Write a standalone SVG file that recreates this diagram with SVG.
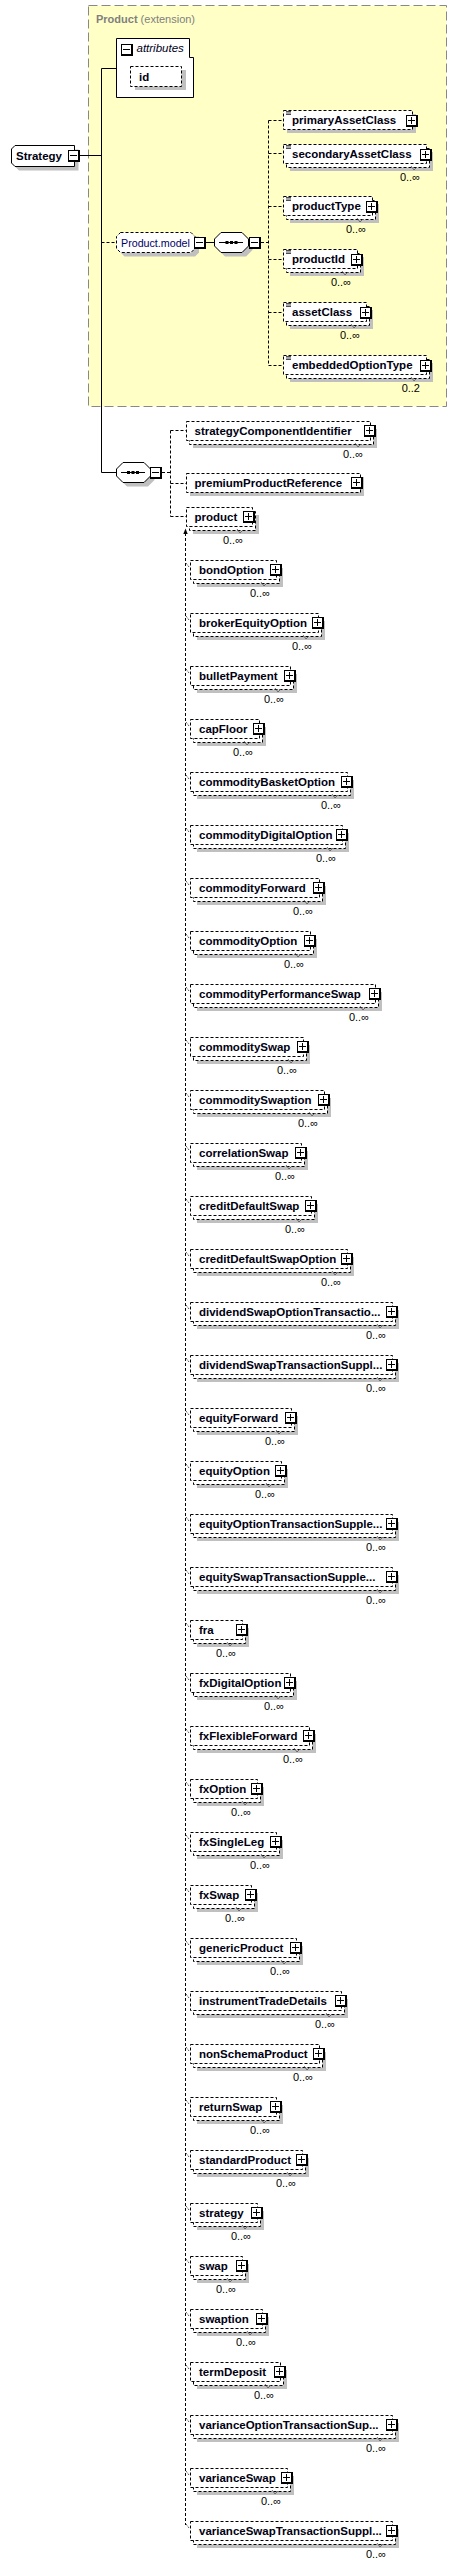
<svg xmlns="http://www.w3.org/2000/svg" xmlns:xlink="http://www.w3.org/1999/xlink" width="457" height="2566" viewBox="0 0 457 2566">
<style>
.bx{fill:#fff;stroke:#000;stroke-width:1;stroke-dasharray:3,2}
.sb{fill:#fff;stroke:#000;stroke-width:1}
.sh{fill:#c0c0c0}
.nm{font-family:"Liberation Sans",Arial,sans-serif;font-size:11.5px;font-weight:bold;fill:#000011}
.mu{font-family:"Liberation Sans",Arial,sans-serif;font-size:11px;fill:#000;text-anchor:end}
.dc{fill:none;stroke:#000;stroke-width:1;stroke-dasharray:3,2}
.sc{fill:none;stroke:#000;stroke-width:1}
.nt{fill:none;stroke:#555;stroke-width:0.8}
.tk{fill:none;stroke:#000;stroke-width:0.8;stroke-dasharray:1,1}
.ic{fill:none;stroke:#000;stroke-width:0.7}
</style>
<defs>
<g id="plus"><rect width="12" height="12" fill="#000"/><rect x="1" y="1" width="9" height="9" fill="#fff"/><rect x="2" y="5" width="7" height="1" fill="#000"/><rect x="5" y="2" width="1" height="7" fill="#000"/></g>
<g id="minus"><rect width="12" height="12" fill="#000"/><rect x="1" y="1" width="9" height="9" fill="#fff"/><rect x="2" y="5" width="7" height="1" fill="#000"/></g>
</defs>

<g id="product-extension">
<rect x="88.5" y="5.5" width="358" height="401" fill="#ffffc6" stroke="#888" stroke-width="1" stroke-dasharray="9,4"/>
<text x="96" y="23" font-family="'Liberation Sans',Arial,sans-serif" font-size="11px" fill="#808080"><tspan font-weight="bold">Product</tspan> (extension)</text>
</g>

<g id="connectors">
<path class="sc" d="M79,155.5H101.5M101.5,68.5V472.5M101.5,68.5H116.5M101.5,472.5H116.5M205,242.5H214.5"/>
<path class="dc" d="M101.5,242.5H116.5M261,242.5H268.5M268.5,120.5V365.5M268.5,120.5H283.5M268.5,153.5H283.5M268.5,206.5H283.5M268.5,259.5H283.5M268.5,312.5H283.5M268.5,365.5H283.5"/>
<path class="dc" d="M162,472.5H170.5M170.5,430.5V516.5M170.5,430.5H186M170.5,483.5H186M170.5,516.5H186"/>
<path class="dc" d="M185.5,533V2525"/>
<path d="M183.3,534L185.5,528.5L187.7,534Z" fill="#000"/>
<path class="sc" d="M187,526.5L191,522.5"/>
<path d="M188.5,521.2L192.3,520.5L191.8,524.3Z" fill="#000"/>
</g>

<g id="Strategy">
<path class="sh" d="M19,149.5H78.5V170.5H19L15.5,167V153Z"/>
<path class="sb" d="M15,145.5H74.5V166.5H15L11.5,163V149Z"/>
<text class="nm" x="16" y="160">Strategy</text>
<use xlink:href="#minus" x="68" y="150"/>
</g>

<g id="attributes">
<path class="sb" d="M116.5,38.5H189.5V57.5H193.5V97.5H116.5Z"/>
<use xlink:href="#minus" x="121" y="44"/>
<text x="136.5" y="52" font-family="'Liberation Sans',Arial,sans-serif" font-size="11.5px" font-style="italic" fill="#000022">attributes</text>
</g>

<g id="id">
<rect class="sh" x="135" y="70" width="51" height="20"/>
<rect class="bx" x="130.5" y="66.5" width="51" height="20"/>
<text class="nm" x="139" y="81">id</text>
</g>

<g id="Product.model">
<path class="sh" d="M124.5,236.5H199V252.5L195,256.5H124.5L120.5,252.5V240.5Z"/>
<path class="bx" d="M120.5,232.5H191L195,236.5V248.5L191,252.5H120.5L116.5,248.5V236.5Z"/>
<text x="121" y="246.5" font-family="'Liberation Sans',Arial,sans-serif" font-size="10.7px" fill="#000066">Product.model</text>
<use xlink:href="#minus" x="194" y="237"/>
</g>

<g id="sequence-model">
<path class="sh" d="M225,236.5H246L252.5,243V250L246,256.5H225L218.5,250V243Z"/>
<path class="sb" d="M221,232.5H242L248.5,239V246L242,252.5H221L214.5,246V239Z"/>
<path class="sc" d="M219,242.5H243"/>
<rect x="225.5" y="241" width="3" height="3" fill="#000"/><rect x="230" y="241" width="3" height="3" fill="#000"/><rect x="234.5" y="241" width="3" height="3" fill="#000"/>
<use xlink:href="#minus" x="249" y="237"/>
</g>

<g id="primaryAssetClass" transform="translate(283,110)">
<rect class="sh" x="4" y="4" width="129" height="19"/>
<rect class="bx" x="0.5" y="0.5" width="129" height="19"/>
<path class="ic" d="M3,1.5h5M3,3h5M3,4.5h5"/>
<use xlink:href="#plus" x="123" y="5"/>
<text class="nm" x="9" y="14">primaryAssetClass</text>
</g>

<g id="secondaryAssetClass" transform="translate(283,144)">
<rect class="sh" x="7" y="8" width="143" height="19"/>
<rect class="bx" x="3.5" y="4.5" width="143" height="19"/>
<rect class="bx" x="0.5" y="0.5" width="143" height="19"/>
<path class="nt" d="M128,22l3,4l3,-3"/>
<path class="ic" d="M3,1.5h5M3,3h5M3,4.5h5"/>
<use xlink:href="#plus" x="137" y="5"/>
<text class="nm" x="9" y="14">secondaryAssetClass</text>
<text class="mu" x="137" y="36.5">0..∞</text>
</g>

<g id="productType" transform="translate(283,196)">
<rect class="sh" x="7" y="8" width="89" height="19"/>
<rect class="bx" x="3.5" y="4.5" width="89" height="19"/>
<rect class="bx" x="0.5" y="0.5" width="89" height="19"/>
<path class="nt" d="M74,22l3,4l3,-3"/>
<path class="ic" d="M3,1.5h5M3,3h5M3,4.5h5"/>
<use xlink:href="#plus" x="83" y="5"/>
<text class="nm" x="9" y="14">productType</text>
<text class="mu" x="83" y="36.5">0..∞</text>
</g>

<g id="productId" transform="translate(283,249)">
<rect class="sh" x="7" y="8" width="74" height="19"/>
<rect class="bx" x="3.5" y="4.5" width="74" height="19"/>
<rect class="bx" x="0.5" y="0.5" width="74" height="19"/>
<path class="nt" d="M59,22l3,4l3,-3"/>
<path class="ic" d="M3,1.5h5M3,3h5M3,4.5h5"/>
<use xlink:href="#plus" x="68" y="5"/>
<text class="nm" x="9" y="14">productId</text>
<text class="mu" x="68" y="36.5">0..∞</text>
</g>

<g id="assetClass" transform="translate(283,302)">
<rect class="sh" x="7" y="8" width="83" height="19"/>
<rect class="bx" x="3.5" y="4.5" width="83" height="19"/>
<rect class="bx" x="0.5" y="0.5" width="83" height="19"/>
<path class="nt" d="M68,22l3,4l3,-3"/>
<path class="ic" d="M3,1.5h5M3,3h5M3,4.5h5"/>
<use xlink:href="#plus" x="77" y="5"/>
<text class="nm" x="9" y="14">assetClass</text>
<text class="mu" x="77" y="36.5">0..∞</text>
</g>

<g id="embeddedOptionType" transform="translate(283,355)">
<rect class="sh" x="7" y="8" width="143" height="19"/>
<rect class="bx" x="3.5" y="4.5" width="143" height="19"/>
<rect class="bx" x="0.5" y="0.5" width="143" height="19"/>
<path class="nt" d="M128,22l3,4l3,-3"/>
<path class="ic" d="M3,1.5h5M3,3h5M3,4.5h5"/>
<use xlink:href="#plus" x="137" y="5"/>
<text class="nm" x="9" y="14">embeddedOptionType</text>
<text class="mu" x="137" y="36.5">0..2</text>
</g>

<g id="sequence-main">
<path class="sh" d="M127,466.5H148L154.5,473V480L148,486.5H127L120.5,480V473Z"/>
<path class="sb" d="M123,462.5H144L150.5,469V476L144,482.5H123L116.5,476V469Z"/>
<path class="sc" d="M121,472.5H145"/>
<rect x="127" y="471" width="3" height="3" fill="#000"/><rect x="131.5" y="471" width="3" height="3" fill="#000"/><rect x="136" y="471" width="3" height="3" fill="#000"/>
<use xlink:href="#minus" x="150" y="467"/>
</g>

<g id="strategyComponentIdentifier" transform="translate(186,421)">
<rect class="sh" x="7" y="8" width="184" height="19"/>
<rect class="bx" x="3.5" y="4.5" width="184" height="19"/>
<rect class="bx" x="0.5" y="0.5" width="184" height="19"/>
<path class="nt" d="M169,22l3,4l3,-3"/>
<use xlink:href="#plus" x="178" y="4"/>
<text class="nm" x="8.5" y="14">strategyComponentIdentifier</text>
<text class="mu" x="177" y="36.5">0..∞</text>
</g>

<g id="premiumProductReference" transform="translate(186,473)">
<rect class="sh" x="4" y="4" width="174" height="19"/>
<rect class="bx" x="0.5" y="0.5" width="174" height="19"/>
<use xlink:href="#plus" x="165" y="4"/>
<text class="nm" x="8.5" y="14">premiumProductReference</text>
</g>

<g id="product" transform="translate(186,507)">
<rect class="sh" x="7" y="8" width="66" height="19"/>
<rect class="bx" x="3.5" y="4.5" width="66" height="19"/>
<rect class="bx" x="0.5" y="0.5" width="66" height="19"/>
<path class="nt" d="M51,22l3,4l3,-3"/>
<use xlink:href="#plus" x="57" y="4"/>
<text class="nm" x="8.5" y="14">product</text>
<text class="mu" x="57" y="36.5">0..∞</text>
</g>

<g id="bondOption" transform="translate(190,560)"><path class="tk" d="M-4,3L-1,7"/><rect class="sh" x="7" y="8" width="86" height="19"/><rect class="bx" x="3.5" y="4.5" width="86" height="19"/><rect class="bx" x="0.5" y="0.5" width="86" height="19"/><path class="nt" d="M71,22l3,4l3,-3"/><use xlink:href="#plus" x="80" y="4"/><text class="nm" x="9" y="14">bondOption</text><text class="mu" x="80" y="36.5">0..∞</text></g>
<g id="brokerEquityOption" transform="translate(190,613)"><path class="tk" d="M-4,3L-1,7"/><rect class="sh" x="7" y="8" width="128" height="19"/><rect class="bx" x="3.5" y="4.5" width="128" height="19"/><rect class="bx" x="0.5" y="0.5" width="128" height="19"/><path class="nt" d="M113,22l3,4l3,-3"/><use xlink:href="#plus" x="122" y="4"/><text class="nm" x="9" y="14">brokerEquityOption</text><text class="mu" x="122" y="36.5">0..∞</text></g>
<g id="bulletPayment" transform="translate(190,666)"><path class="tk" d="M-4,3L-1,7"/><rect class="sh" x="7" y="8" width="100" height="19"/><rect class="bx" x="3.5" y="4.5" width="100" height="19"/><rect class="bx" x="0.5" y="0.5" width="100" height="19"/><path class="nt" d="M85,22l3,4l3,-3"/><use xlink:href="#plus" x="94" y="4"/><text class="nm" x="9" y="14">bulletPayment</text><text class="mu" x="94" y="36.5">0..∞</text></g>
<g id="capFloor" transform="translate(190,719)"><path class="tk" d="M-4,3L-1,7"/><rect class="sh" x="7" y="8" width="69" height="19"/><rect class="bx" x="3.5" y="4.5" width="69" height="19"/><rect class="bx" x="0.5" y="0.5" width="69" height="19"/><path class="nt" d="M54,22l3,4l3,-3"/><use xlink:href="#plus" x="63" y="4"/><text class="nm" x="9" y="14">capFloor</text><text class="mu" x="63" y="36.5">0..∞</text></g>
<g id="commodityBasketOption" transform="translate(190,772)"><path class="tk" d="M-4,3L-1,7"/><rect class="sh" x="7" y="8" width="157" height="19"/><rect class="bx" x="3.5" y="4.5" width="157" height="19"/><rect class="bx" x="0.5" y="0.5" width="157" height="19"/><path class="nt" d="M142,22l3,4l3,-3"/><use xlink:href="#plus" x="151" y="4"/><text class="nm" x="9" y="14">commodityBasketOption</text><text class="mu" x="151" y="36.5">0..∞</text></g>
<g id="commodityDigitalOption" transform="translate(190,825)"><path class="tk" d="M-4,3L-1,7"/><rect class="sh" x="7" y="8" width="152" height="19"/><rect class="bx" x="3.5" y="4.5" width="152" height="19"/><rect class="bx" x="0.5" y="0.5" width="152" height="19"/><path class="nt" d="M137,22l3,4l3,-3"/><use xlink:href="#plus" x="146" y="4"/><text class="nm" x="9" y="14">commodityDigitalOption</text><text class="mu" x="146" y="36.5">0..∞</text></g>
<g id="commodityForward" transform="translate(190,878)"><path class="tk" d="M-4,3L-1,7"/><rect class="sh" x="7" y="8" width="129" height="19"/><rect class="bx" x="3.5" y="4.5" width="129" height="19"/><rect class="bx" x="0.5" y="0.5" width="129" height="19"/><path class="nt" d="M114,22l3,4l3,-3"/><use xlink:href="#plus" x="123" y="4"/><text class="nm" x="9" y="14">commodityForward</text><text class="mu" x="123" y="36.5">0..∞</text></g>
<g id="commodityOption" transform="translate(190,931)"><path class="tk" d="M-4,3L-1,7"/><rect class="sh" x="7" y="8" width="120" height="19"/><rect class="bx" x="3.5" y="4.5" width="120" height="19"/><rect class="bx" x="0.5" y="0.5" width="120" height="19"/><path class="nt" d="M105,22l3,4l3,-3"/><use xlink:href="#plus" x="114" y="4"/><text class="nm" x="9" y="14">commodityOption</text><text class="mu" x="114" y="36.5">0..∞</text></g>
<g id="commodityPerformanceSwap" transform="translate(190,984)"><path class="tk" d="M-4,3L-1,7"/><rect class="sh" x="7" y="8" width="185" height="19"/><rect class="bx" x="3.5" y="4.5" width="185" height="19"/><rect class="bx" x="0.5" y="0.5" width="185" height="19"/><path class="nt" d="M170,22l3,4l3,-3"/><use xlink:href="#plus" x="179" y="4"/><text class="nm" x="9" y="14">commodityPerformanceSwap</text><text class="mu" x="179" y="36.5">0..∞</text></g>
<g id="commoditySwap" transform="translate(190,1037)"><path class="tk" d="M-4,3L-1,7"/><rect class="sh" x="7" y="8" width="113" height="19"/><rect class="bx" x="3.5" y="4.5" width="113" height="19"/><rect class="bx" x="0.5" y="0.5" width="113" height="19"/><path class="nt" d="M98,22l3,4l3,-3"/><use xlink:href="#plus" x="107" y="4"/><text class="nm" x="9" y="14">commoditySwap</text><text class="mu" x="107" y="36.5">0..∞</text></g>
<g id="commoditySwaption" transform="translate(190,1090)"><path class="tk" d="M-4,3L-1,7"/><rect class="sh" x="7" y="8" width="134" height="19"/><rect class="bx" x="3.5" y="4.5" width="134" height="19"/><rect class="bx" x="0.5" y="0.5" width="134" height="19"/><path class="nt" d="M119,22l3,4l3,-3"/><use xlink:href="#plus" x="128" y="4"/><text class="nm" x="9" y="14">commoditySwaption</text><text class="mu" x="128" y="36.5">0..∞</text></g>
<g id="correlationSwap" transform="translate(190,1143)"><path class="tk" d="M-4,3L-1,7"/><rect class="sh" x="7" y="8" width="111" height="19"/><rect class="bx" x="3.5" y="4.5" width="111" height="19"/><rect class="bx" x="0.5" y="0.5" width="111" height="19"/><path class="nt" d="M96,22l3,4l3,-3"/><use xlink:href="#plus" x="105" y="4"/><text class="nm" x="9" y="14">correlationSwap</text><text class="mu" x="105" y="36.5">0..∞</text></g>
<g id="creditDefaultSwap" transform="translate(190,1196)"><path class="tk" d="M-4,3L-1,7"/><rect class="sh" x="7" y="8" width="121" height="19"/><rect class="bx" x="3.5" y="4.5" width="121" height="19"/><rect class="bx" x="0.5" y="0.5" width="121" height="19"/><path class="nt" d="M106,22l3,4l3,-3"/><use xlink:href="#plus" x="115" y="4"/><text class="nm" x="9" y="14">creditDefaultSwap</text><text class="mu" x="115" y="36.5">0..∞</text></g>
<g id="creditDefaultSwapOption" transform="translate(190,1249)"><path class="tk" d="M-4,3L-1,7"/><rect class="sh" x="7" y="8" width="157" height="19"/><rect class="bx" x="3.5" y="4.5" width="157" height="19"/><rect class="bx" x="0.5" y="0.5" width="157" height="19"/><path class="nt" d="M142,22l3,4l3,-3"/><use xlink:href="#plus" x="151" y="4"/><text class="nm" x="9" y="14">creditDefaultSwapOption</text><text class="mu" x="151" y="36.5">0..∞</text></g>
<g id="dividendSwapOptionTransactionSupplement" transform="translate(190,1302)"><path class="tk" d="M-4,3L-1,7"/><rect class="sh" x="7" y="8" width="202" height="19"/><rect class="bx" x="3.5" y="4.5" width="202" height="19"/><rect class="bx" x="0.5" y="0.5" width="202" height="19"/><path class="nt" d="M187,22l3,4l3,-3"/><use xlink:href="#plus" x="196" y="4"/><text class="nm" x="9" y="14">dividendSwapOptionTransactio...</text><text class="mu" x="196" y="36.5">0..∞</text></g>
<g id="dividendSwapTransactionSupplement" transform="translate(190,1355)"><path class="tk" d="M-4,3L-1,7"/><rect class="sh" x="7" y="8" width="202" height="19"/><rect class="bx" x="3.5" y="4.5" width="202" height="19"/><rect class="bx" x="0.5" y="0.5" width="202" height="19"/><path class="nt" d="M187,22l3,4l3,-3"/><use xlink:href="#plus" x="196" y="4"/><text class="nm" x="9" y="14">dividendSwapTransactionSuppl...</text><text class="mu" x="196" y="36.5">0..∞</text></g>
<g id="equityForward" transform="translate(190,1408)"><path class="tk" d="M-4,3L-1,7"/><rect class="sh" x="7" y="8" width="101" height="19"/><rect class="bx" x="3.5" y="4.5" width="101" height="19"/><rect class="bx" x="0.5" y="0.5" width="101" height="19"/><path class="nt" d="M86,22l3,4l3,-3"/><use xlink:href="#plus" x="95" y="4"/><text class="nm" x="9" y="14">equityForward</text><text class="mu" x="95" y="36.5">0..∞</text></g>
<g id="equityOption" transform="translate(190,1461)"><path class="tk" d="M-4,3L-1,7"/><rect class="sh" x="7" y="8" width="91" height="19"/><rect class="bx" x="3.5" y="4.5" width="91" height="19"/><rect class="bx" x="0.5" y="0.5" width="91" height="19"/><path class="nt" d="M76,22l3,4l3,-3"/><use xlink:href="#plus" x="85" y="4"/><text class="nm" x="9" y="14">equityOption</text><text class="mu" x="85" y="36.5">0..∞</text></g>
<g id="equityOptionTransactionSupplement" transform="translate(190,1514)"><path class="tk" d="M-4,3L-1,7"/><rect class="sh" x="7" y="8" width="202" height="19"/><rect class="bx" x="3.5" y="4.5" width="202" height="19"/><rect class="bx" x="0.5" y="0.5" width="202" height="19"/><path class="nt" d="M187,22l3,4l3,-3"/><use xlink:href="#plus" x="196" y="4"/><text class="nm" x="9" y="14">equityOptionTransactionSupple...</text><text class="mu" x="196" y="36.5">0..∞</text></g>
<g id="equitySwapTransactionSupplement" transform="translate(190,1567)"><path class="tk" d="M-4,3L-1,7"/><rect class="sh" x="7" y="8" width="202" height="19"/><rect class="bx" x="3.5" y="4.5" width="202" height="19"/><rect class="bx" x="0.5" y="0.5" width="202" height="19"/><path class="nt" d="M187,22l3,4l3,-3"/><use xlink:href="#plus" x="196" y="4"/><text class="nm" x="9" y="14">equitySwapTransactionSupple...</text><text class="mu" x="196" y="36.5">0..∞</text></g>
<g id="fra" transform="translate(190,1620)"><path class="tk" d="M-4,3L-1,7"/><rect class="sh" x="7" y="8" width="52" height="19"/><rect class="bx" x="3.5" y="4.5" width="52" height="19"/><rect class="bx" x="0.5" y="0.5" width="52" height="19"/><path class="nt" d="M37,22l3,4l3,-3"/><use xlink:href="#plus" x="46" y="4"/><text class="nm" x="9" y="14">fra</text><text class="mu" x="46" y="36.5">0..∞</text></g>
<g id="fxDigitalOption" transform="translate(190,1673)"><path class="tk" d="M-4,3L-1,7"/><rect class="sh" x="7" y="8" width="100" height="19"/><rect class="bx" x="3.5" y="4.5" width="100" height="19"/><rect class="bx" x="0.5" y="0.5" width="100" height="19"/><path class="nt" d="M85,22l3,4l3,-3"/><use xlink:href="#plus" x="94" y="4"/><text class="nm" x="9" y="14">fxDigitalOption</text><text class="mu" x="94" y="36.5">0..∞</text></g>
<g id="fxFlexibleForward" transform="translate(190,1726)"><path class="tk" d="M-4,3L-1,7"/><rect class="sh" x="7" y="8" width="119" height="19"/><rect class="bx" x="3.5" y="4.5" width="119" height="19"/><rect class="bx" x="0.5" y="0.5" width="119" height="19"/><path class="nt" d="M104,22l3,4l3,-3"/><use xlink:href="#plus" x="113" y="4"/><text class="nm" x="9" y="14">fxFlexibleForward</text><text class="mu" x="113" y="36.5">0..∞</text></g>
<g id="fxOption" transform="translate(190,1779)"><path class="tk" d="M-4,3L-1,7"/><rect class="sh" x="7" y="8" width="67" height="19"/><rect class="bx" x="3.5" y="4.5" width="67" height="19"/><rect class="bx" x="0.5" y="0.5" width="67" height="19"/><path class="nt" d="M52,22l3,4l3,-3"/><use xlink:href="#plus" x="61" y="4"/><text class="nm" x="9" y="14">fxOption</text><text class="mu" x="61" y="36.5">0..∞</text></g>
<g id="fxSingleLeg" transform="translate(190,1832)"><path class="tk" d="M-4,3L-1,7"/><rect class="sh" x="7" y="8" width="86" height="19"/><rect class="bx" x="3.5" y="4.5" width="86" height="19"/><rect class="bx" x="0.5" y="0.5" width="86" height="19"/><path class="nt" d="M71,22l3,4l3,-3"/><use xlink:href="#plus" x="80" y="4"/><text class="nm" x="9" y="14">fxSingleLeg</text><text class="mu" x="80" y="36.5">0..∞</text></g>
<g id="fxSwap" transform="translate(190,1885)"><path class="tk" d="M-4,3L-1,7"/><rect class="sh" x="7" y="8" width="61" height="19"/><rect class="bx" x="3.5" y="4.5" width="61" height="19"/><rect class="bx" x="0.5" y="0.5" width="61" height="19"/><path class="nt" d="M46,22l3,4l3,-3"/><use xlink:href="#plus" x="55" y="4"/><text class="nm" x="9" y="14">fxSwap</text><text class="mu" x="55" y="36.5">0..∞</text></g>
<g id="genericProduct" transform="translate(190,1938)"><path class="tk" d="M-4,3L-1,7"/><rect class="sh" x="7" y="8" width="106" height="19"/><rect class="bx" x="3.5" y="4.5" width="106" height="19"/><rect class="bx" x="0.5" y="0.5" width="106" height="19"/><path class="nt" d="M91,22l3,4l3,-3"/><use xlink:href="#plus" x="100" y="4"/><text class="nm" x="9" y="14">genericProduct</text><text class="mu" x="100" y="36.5">0..∞</text></g>
<g id="instrumentTradeDetails" transform="translate(190,1991)"><path class="tk" d="M-4,3L-1,7"/><rect class="sh" x="7" y="8" width="151" height="19"/><rect class="bx" x="3.5" y="4.5" width="151" height="19"/><rect class="bx" x="0.5" y="0.5" width="151" height="19"/><path class="nt" d="M136,22l3,4l3,-3"/><use xlink:href="#plus" x="145" y="4"/><text class="nm" x="9" y="14">instrumentTradeDetails</text><text class="mu" x="145" y="36.5">0..∞</text></g>
<g id="nonSchemaProduct" transform="translate(190,2044)"><path class="tk" d="M-4,3L-1,7"/><rect class="sh" x="7" y="8" width="129" height="19"/><rect class="bx" x="3.5" y="4.5" width="129" height="19"/><rect class="bx" x="0.5" y="0.5" width="129" height="19"/><path class="nt" d="M114,22l3,4l3,-3"/><use xlink:href="#plus" x="123" y="4"/><text class="nm" x="9" y="14">nonSchemaProduct</text><text class="mu" x="123" y="36.5">0..∞</text></g>
<g id="returnSwap" transform="translate(190,2097)"><path class="tk" d="M-4,3L-1,7"/><rect class="sh" x="7" y="8" width="86" height="19"/><rect class="bx" x="3.5" y="4.5" width="86" height="19"/><rect class="bx" x="0.5" y="0.5" width="86" height="19"/><path class="nt" d="M71,22l3,4l3,-3"/><use xlink:href="#plus" x="80" y="4"/><text class="nm" x="9" y="14">returnSwap</text><text class="mu" x="80" y="36.5">0..∞</text></g>
<g id="standardProduct" transform="translate(190,2150)"><path class="tk" d="M-4,3L-1,7"/><rect class="sh" x="7" y="8" width="112" height="19"/><rect class="bx" x="3.5" y="4.5" width="112" height="19"/><rect class="bx" x="0.5" y="0.5" width="112" height="19"/><path class="nt" d="M97,22l3,4l3,-3"/><use xlink:href="#plus" x="106" y="4"/><text class="nm" x="9" y="14">standardProduct</text><text class="mu" x="106" y="36.5">0..∞</text></g>
<g id="strategy" transform="translate(190,2203)"><path class="tk" d="M-4,3L-1,7"/><rect class="sh" x="7" y="8" width="67" height="19"/><rect class="bx" x="3.5" y="4.5" width="67" height="19"/><rect class="bx" x="0.5" y="0.5" width="67" height="19"/><path class="nt" d="M52,22l3,4l3,-3"/><use xlink:href="#plus" x="61" y="4"/><text class="nm" x="9" y="14">strategy</text><text class="mu" x="61" y="36.5">0..∞</text></g>
<g id="swap" transform="translate(190,2256)"><path class="tk" d="M-4,3L-1,7"/><rect class="sh" x="7" y="8" width="52" height="19"/><rect class="bx" x="3.5" y="4.5" width="52" height="19"/><rect class="bx" x="0.5" y="0.5" width="52" height="19"/><path class="nt" d="M37,22l3,4l3,-3"/><use xlink:href="#plus" x="46" y="4"/><text class="nm" x="9" y="14">swap</text><text class="mu" x="46" y="36.5">0..∞</text></g>
<g id="swaption" transform="translate(190,2309)"><path class="tk" d="M-4,3L-1,7"/><rect class="sh" x="7" y="8" width="72" height="19"/><rect class="bx" x="3.5" y="4.5" width="72" height="19"/><rect class="bx" x="0.5" y="0.5" width="72" height="19"/><path class="nt" d="M57,22l3,4l3,-3"/><use xlink:href="#plus" x="66" y="4"/><text class="nm" x="9" y="14">swaption</text><text class="mu" x="66" y="36.5">0..∞</text></g>
<g id="termDeposit" transform="translate(190,2362)"><path class="tk" d="M-4,3L-1,7"/><rect class="sh" x="7" y="8" width="90" height="19"/><rect class="bx" x="3.5" y="4.5" width="90" height="19"/><rect class="bx" x="0.5" y="0.5" width="90" height="19"/><path class="nt" d="M75,22l3,4l3,-3"/><use xlink:href="#plus" x="84" y="4"/><text class="nm" x="9" y="14">termDeposit</text><text class="mu" x="84" y="36.5">0..∞</text></g>
<g id="varianceOptionTransactionSupplement" transform="translate(190,2415)"><path class="tk" d="M-4,3L-1,7"/><rect class="sh" x="7" y="8" width="202" height="19"/><rect class="bx" x="3.5" y="4.5" width="202" height="19"/><rect class="bx" x="0.5" y="0.5" width="202" height="19"/><path class="nt" d="M187,22l3,4l3,-3"/><use xlink:href="#plus" x="196" y="4"/><text class="nm" x="9" y="14">varianceOptionTransactionSup...</text><text class="mu" x="196" y="36.5">0..∞</text></g>
<g id="varianceSwap" transform="translate(190,2468)"><path class="tk" d="M-4,3L-1,7"/><rect class="sh" x="7" y="8" width="97" height="19"/><rect class="bx" x="3.5" y="4.5" width="97" height="19"/><rect class="bx" x="0.5" y="0.5" width="97" height="19"/><path class="nt" d="M82,22l3,4l3,-3"/><use xlink:href="#plus" x="91" y="4"/><text class="nm" x="9" y="14">varianceSwap</text><text class="mu" x="91" y="36.5">0..∞</text></g>
<g id="varianceSwapTransactionSupplement" transform="translate(190,2521)"><path class="tk" d="M-4,3L-1,7"/><rect class="sh" x="7" y="8" width="202" height="19"/><rect class="bx" x="3.5" y="4.5" width="202" height="19"/><rect class="bx" x="0.5" y="0.5" width="202" height="19"/><path class="nt" d="M187,22l3,4l3,-3"/><use xlink:href="#plus" x="196" y="4"/><text class="nm" x="9" y="14">varianceSwapTransactionSuppl...</text><text class="mu" x="196" y="36.5">0..∞</text></g>
</svg>
